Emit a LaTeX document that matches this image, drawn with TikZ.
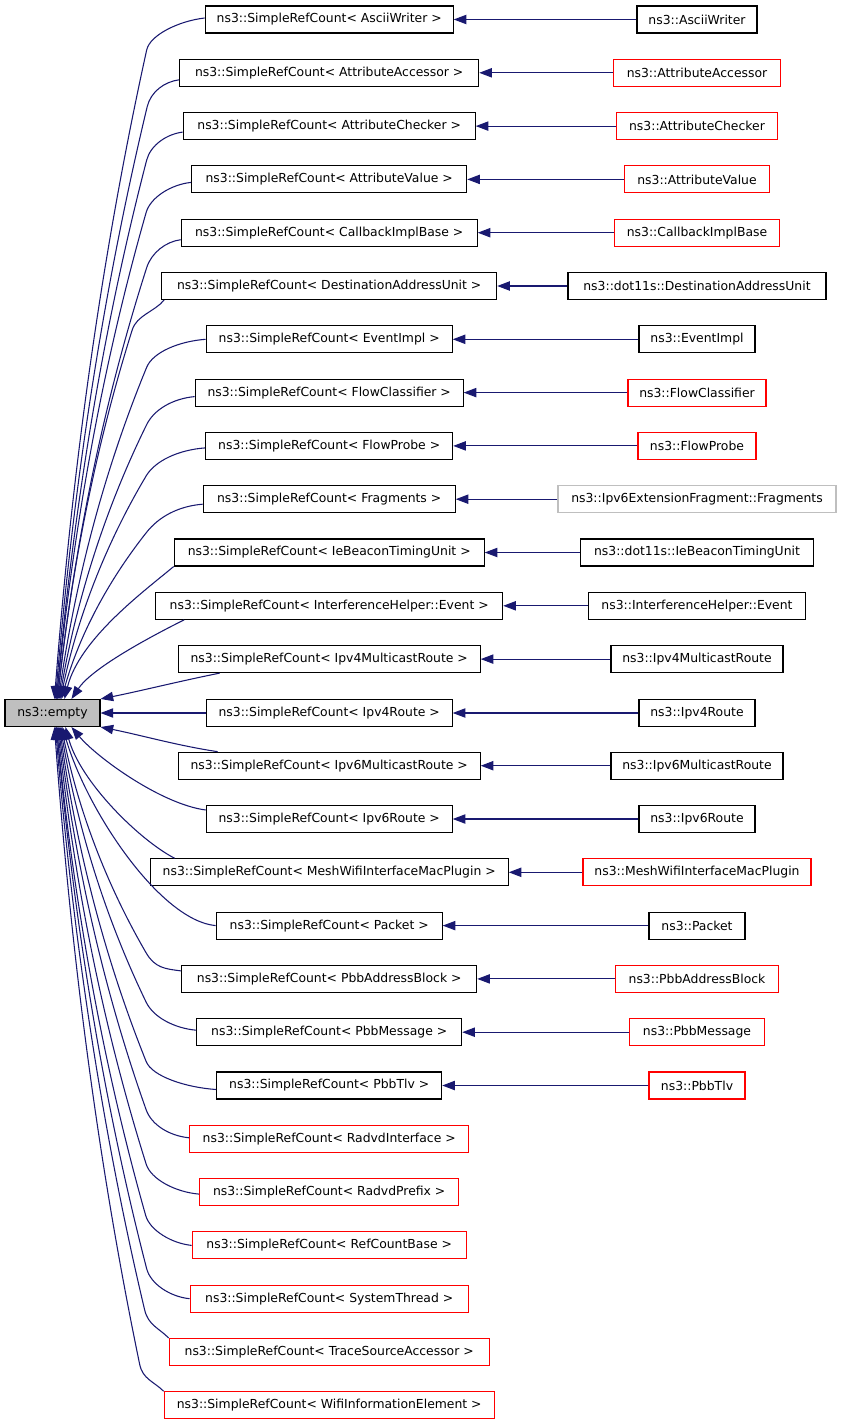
\documentclass[tikz,border=0pt]{standalone}
\usepackage{fontspec}
\setmainfont{DejaVu Sans}
\usetikzlibrary{arrows.meta,calc}
\definecolor{navy}{HTML}{191970}
\definecolor{grayfill}{HTML}{BFBFBF}
\definecolor{lightframe}{HTML}{BFBFBF}
% #1 start, #2 end, #3 sign (1: edge runs down to ns3::empty, -1: runs up),
% #4/#5 bend point offset (px, left / towards empty), #6/#7 first control offset (px)
\newcommand\fanedge[7]{%
\draw[edge] let \p1=(#1), \p2=(#2),
  \p3=({\x1-#4*0.75pt},{\y1-(#3)*#5*0.75pt}),
  \n1={1.55*(\x3-\x2)/abs(\y3-\y2)},
  \n2={abs(\y3-\y2)/3},
  \n3={0.35*\n1}
  in (\p1) .. controls ({\x1-#6*0.75pt},{\y1-(#3)*#7*0.75pt}) and ({\x3+\n1*11.25},{\y3+(#3)*11.25}) .. (\p3)
  .. controls ({\x3-\n1*\n2},{\y3-(#3)*\n2}) and ({\x2+\n3*\n2},{\y2+(#3)*\n2}) .. (\p2);}
\begin{document}
\begin{tikzpicture}[x=0.75pt,y=-0.75pt,
  box/.style={draw=black, line width=0.8pt, minimum height=20.25pt, inner sep=0pt, font=\fontsize{9.3pt}{11pt}\selectfont},
  redbox/.style={box, draw=red},
  graybox/.style={box, draw=lightframe},
  bw/.style={minimum width={#1*0.75pt}},
  edge/.style={draw=navy, line width=0.8pt, -{Triangle[length=9.5pt,width=7pt]}}]
\useasboundingbox (0,0) rectangle (843,1427);

\node[box,bw=95,fill=grayfill] (empty) at (52.5,713) {ns3::empty};

% left column
\node[box,bw=248] (a1) at (329.2,19.5) {ns3::SimpleRefCount< AsciiWriter >};
\node[box,bw=299] (a2) at (329.2,72.8) {ns3::SimpleRefCount< AttributeAccessor >};
\node[box,bw=292] (a3) at (329.2,126.1) {ns3::SimpleRefCount< AttributeChecker >};
\node[box,bw=275] (a4) at (329.2,179.4) {ns3::SimpleRefCount< AttributeValue >};
\node[box,bw=296] (a5) at (329.2,232.7) {ns3::SimpleRefCount< CallbackImplBase >};
\node[box,bw=335] (a6) at (329.2,286.0) {ns3::SimpleRefCount< DestinationAddressUnit >};
\node[box,bw=246] (a7) at (329.2,339.3) {ns3::SimpleRefCount< EventImpl >};
\node[box,bw=268] (a8) at (329.2,392.6) {ns3::SimpleRefCount< FlowClassifier >};
\node[box,bw=247] (a9) at (329.2,445.9) {ns3::SimpleRefCount< FlowProbe >};
\node[box,bw=252] (a10) at (329.2,499.2) {ns3::SimpleRefCount< Fragments >};
\node[box,bw=310] (a11) at (329.2,552.5) {ns3::SimpleRefCount< IeBeaconTimingUnit >};
\node[box,bw=347] (a12) at (329.2,605.8) {ns3::SimpleRefCount< InterferenceHelper::Event >};
\node[box,bw=302] (a13) at (329.2,659.1) {ns3::SimpleRefCount< Ipv4MulticastRoute >};
\node[box,bw=246] (a14) at (329.2,713) {ns3::SimpleRefCount< Ipv4Route >};
\node[box,bw=302] (a15) at (329.2,765.7) {ns3::SimpleRefCount< Ipv6MulticastRoute >};
\node[box,bw=246] (a16) at (329.2,819.0) {ns3::SimpleRefCount< Ipv6Route >};
\node[box,bw=358] (a17) at (329.2,872.3) {ns3::SimpleRefCount< MeshWifiInterfaceMacPlugin >};
\node[box,bw=226] (a18) at (329.2,925.6) {ns3::SimpleRefCount< Packet >};
\node[box,bw=295] (a19) at (329.2,978.9) {ns3::SimpleRefCount< PbbAddressBlock >};
\node[box,bw=265] (a20) at (329.2,1032.2) {ns3::SimpleRefCount< PbbMessage >};
\node[box,bw=225] (a21) at (329.2,1085.5) {ns3::SimpleRefCount< PbbTlv >};
\node[redbox,bw=279] (a22) at (329.2,1138.8) {ns3::SimpleRefCount< RadvdInterface >};
\node[redbox,bw=259] (a23) at (329.2,1192.1) {ns3::SimpleRefCount< RadvdPrefix >};
\node[redbox,bw=274] (a24) at (329.2,1245.4) {ns3::SimpleRefCount< RefCountBase >};
\node[redbox,bw=278] (a25) at (329.2,1298.7) {ns3::SimpleRefCount< SystemThread >};
\node[redbox,bw=320] (a26) at (329.2,1352.0) {ns3::SimpleRefCount< TraceSourceAccessor >};
\node[redbox,bw=330] (a27) at (329.2,1405.3) {ns3::SimpleRefCount< WifiInformationElement >};

% right column
\node[box,bw=120] (b1) at (697,19.5) {ns3::AsciiWriter};
\node[redbox,bw=167] (b2) at (697,72.8) {ns3::AttributeAccessor};
\node[redbox,bw=161] (b3) at (697,126.1) {ns3::AttributeChecker};
\node[redbox,bw=145] (b4) at (697,179.4) {ns3::AttributeValue};
\node[redbox,bw=165] (b5) at (697,232.7) {ns3::CallbackImplBase};
\node[box,bw=258] (b6) at (697,286.0) {ns3::dot11s::DestinationAddressUnit};
\node[box,bw=116] (b7) at (697,339.3) {ns3::EventImpl};
\node[redbox,bw=138] (b8) at (697,392.6) {ns3::FlowClassifier};
\node[redbox,bw=118] (b9) at (697,445.9) {ns3::FlowProbe};
\node[graybox,bw=278] (b10) at (697,499.2) {ns3::Ipv6ExtensionFragment::Fragments};
\node[box,bw=233] (b11) at (697,552.5) {ns3::dot11s::IeBeaconTimingUnit};
\node[box,bw=217] (b12) at (697,605.8) {ns3::InterferenceHelper::Event};
\node[box,bw=172] (b13) at (697,659.1) {ns3::Ipv4MulticastRoute};
\node[box,bw=116] (b14) at (697,713) {ns3::Ipv4Route};
\node[box,bw=172] (b15) at (697,765.7) {ns3::Ipv6MulticastRoute};
\node[box,bw=116] (b16) at (697,819.0) {ns3::Ipv6Route};
\node[redbox,bw=228] (b17) at (697,872.3) {ns3::MeshWifiInterfaceMacPlugin};
\node[box,bw=96] (b18) at (697,925.6) {ns3::Packet};
\node[redbox,bw=163] (b19) at (697,978.9) {ns3::PbbAddressBlock};
\node[redbox,bw=135] (b20) at (697,1032.2) {ns3::PbbMessage};
\node[redbox,bw=96] (b21) at (697,1085.5) {ns3::PbbTlv};

% horizontal edges
\foreach \i in {1,...,21} { \draw[edge] (b\i.west) -- (a\i.east); }

% upper edges into ns3::empty
\fanedge{$(a1.west)+(0,-1.5)$}{$(empty.north west)+(50,0)$}{1}{58}{32}{26}{3}
\fanedge{$(a2.west)+(0,7)$}{$(empty.north west)+(51,0)$}{1}{32}{27}{15}{2}
\fanedge{$(a3.west)+(0,6)$}{$(empty.north west)+(52,0)$}{1}{36}{28}{16}{2}
\fanedge{$(a4.west)+(0,3)$}{$(empty.north west)+(52,0)$}{1}{45}{30}{20}{2}
\fanedge{$(a5.west)+(0,7)$}{$(empty.north west)+(53,0)$}{1}{34}{28}{15}{2}
\fanedge{$(a6.south west)+(3,0)$}{$(empty.north west)+(53,0)$}{1}{32}{30}{10}{12}
\fanedge{$(a7.west)+(0,0)$}{$(empty.north west)+(54,0)$}{1}{59}{28}{27}{2}
\fanedge{$(a8.west)+(0,4)$}{$(empty.north west)+(55,0)$}{1}{48}{28}{22}{2}
\fanedge{$(a9.west)+(0,2)$}{$(empty.north west)+(56,0)$}{1}{59}{28}{27}{2}
\fanedge{$(a10.west)+(0,5)$}{$(empty.north west)+(57,0)$}{1}{56}{28}{25}{2}
\draw[edge] (a11.south west) .. controls +(-30,25) and +(15,-60) .. ($(empty.north west)+(60,0)$);
\draw[edge] ($(a12.south west)+(29,0)$) .. controls +(-40,20) and +(20,-30) .. ($(empty.north west)+(67,0)$);
\draw[edge] ($(a13.south west)+(42,0)$) .. controls +(-40,8) and +(40,-8) .. (empty.north east);
% middle
\draw[edge] (a14.west) -- (empty.east);
% lower edges into ns3::empty
\draw[edge] ($(a15.north west)+(40,0)$) .. controls +(-40,-6) and +(40,8) .. (empty.south east);
\draw[edge] ($(a16.west)+(0,-9)$) .. controls +(-45,-6) and +(25,30) .. ($(empty.south west)+(67,0)$);
\draw[edge] ($(a17.north west)+(25,0)$) .. controls +(-35,-18) and +(15,55) .. ($(empty.south west)+(61,0)$);
\draw[edge] (a18.west) .. controls +(-55,-5) and +(25,85) .. ($(empty.south west)+(58,0)$);
\fanedge{$(a19.west)+(0,-8)$}{$(empty.south west)+(57,0)$}{-1}{35}{18}{16}{2}
\fanedge{$(a20.west)+(0,-2)$}{$(empty.south west)+(56,0)$}{-1}{50}{28}{22}{2}
\fanedge{$(a21.west)+(0,4)$}{$(empty.south west)+(55,0)$}{-1}{70}{28}{30}{2}
\fanedge{$(a22.west)+(0,-1)$}{$(empty.south west)+(54,0)$}{-1}{43}{28}{20}{2}
\fanedge{$(a23.west)+(0,2)$}{$(empty.south west)+(53,0)$}{-1}{53}{30}{24}{2}
\fanedge{$(a24.west)+(0,0)$}{$(empty.south west)+(52,0)$}{-1}{46}{30}{20}{2}
\fanedge{$(a25.west)+(0,0)$}{$(empty.south west)+(52,0)$}{-1}{43}{30}{20}{2}
\fanedge{$(a26.north west)+(0,0)$}{$(empty.south west)+(51,0)$}{-1}{24}{28}{10}{10}
\fanedge{$(a27.north west)+(0,0)$}{$(empty.south west)+(50,0)$}{-1}{24}{27}{10}{10}
\end{tikzpicture}
\end{document}
